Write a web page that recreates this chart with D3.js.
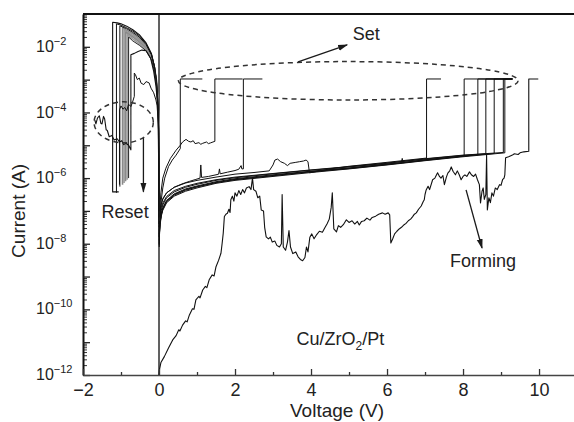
<!DOCTYPE html>
<html>
<head>
<meta charset="utf-8">
<script src="https://cdn.jsdelivr.net/npm/d3@7"></script>
<style>
  body { margin: 0; background: #fff; }
  svg { display: block; font-family: "Liberation Sans", Arial, Helvetica, sans-serif; }
</style>
</head>
<body>
<script>

// every curve is a list of [voltage (V), log10 of current (A)]

const zeroLine = [[0, -12], [0, -1]]

const formingCurve = [[0,-12],[0.01,-11.85],[0.05,-11.62],[0.14,-11.44],[0.25,-11.18],[0.36,-10.93],[0.45,-10.8],[0.52,-10.62],[0.55,-10.66],[0.62,-10.48],[0.7,-10.35],[0.74,-10.38],[0.8,-10.17],[0.88,-9.98],[0.92,-10.0],[0.97,-9.71],[1.05,-9.6],[1.08,-9.65],[1.15,-9.41],[1.22,-9.3],[1.26,-9.34],[1.32,-9.1],[1.4,-8.95],[1.45,-8.98],[1.5,-8.7],[1.57,-8.5],[1.63,-8.29],[1.66,-8.0],[1.69,-7.68],[1.72,-7.17],[1.76,-7.1],[1.8,-7.07],[1.84,-6.95],[1.87,-7.05],[1.89,-6.66],[1.93,-6.55],[1.97,-6.7],[2.0,-6.45],[2.05,-6.55],[2.1,-6.38],[2.15,-6.5],[2.2,-6.35],[2.25,-6.45],[2.3,-6.3],[2.37,-6.26],[2.42,-6.35],[2.46,-6.0],[2.49,-6.35],[2.55,-6.4],[2.6,-6.6],[2.65,-6.55],[2.69,-6.97],[2.75,-7.0],[2.78,-7.5],[2.82,-7.79],[2.88,-7.85],[2.93,-7.8],[2.98,-7.95],[3.05,-7.92],[3.1,-8.05],[3.17,-8.1],[3.22,-8.0],[3.24,-6.5],[3.27,-8.1],[3.33,-8.2],[3.38,-7.95],[3.42,-7.6],[3.46,-8.1],[3.52,-8.3],[3.6,-8.25],[3.66,-8.4],[3.72,-8.48],[3.78,-8.52],[3.84,-8.42],[3.88,-8.1],[3.92,-8.25],[3.97,-7.8],[4.02,-7.7],[4.08,-7.85],[4.15,-7.72],[4.22,-7.62],[4.3,-7.65],[4.36,-7.52],[4.42,-7.4],[4.48,-7.25],[4.53,-6.9],[4.56,-6.45],[4.6,-7.55],[4.67,-7.64],[4.72,-7.45],[4.78,-7.5],[4.85,-7.42],[4.93,-7.27],[5.0,-7.35],[5.08,-7.3],[5.15,-7.4],[5.22,-7.32],[5.27,-7.43],[5.33,-7.32],[5.4,-7.3],[5.47,-7.22],[5.55,-7.28],[5.61,-7.2],[5.7,-7.16],[5.78,-7.1],[5.88,-7.06],[5.95,-7.1],[6.03,-7.06],[6.07,-7.12],[6.1,-7.98],[6.15,-7.85],[6.2,-7.7],[6.26,-7.62],[6.32,-7.55],[6.38,-7.5],[6.45,-7.42],[6.5,-7.38],[6.56,-7.3],[6.62,-7.25],[6.67,-7.18],[6.72,-7.1],[6.77,-7.06],[6.83,-6.95],[6.9,-6.85],[6.95,-6.72],[6.98,-6.66],[7.0,-6.5],[7.03,-6.36],[7.08,-6.25],[7.12,-6.35],[7.2,-6.05],[7.26,-6.0],[7.33,-5.84],[7.38,-5.95],[7.42,-6.0],[7.47,-5.92],[7.51,-6.2],[7.56,-5.98],[7.6,-5.85],[7.65,-5.78],[7.69,-5.66],[7.74,-5.8],[7.8,-5.9],[7.85,-5.78],[7.9,-5.9],[7.95,-6.05],[8.0,-5.95],[8.05,-5.9],[8.1,-5.95],[8.17,-5.81],[8.22,-5.9],[8.28,-5.95],[8.33,-5.88],[8.38,-6.05],[8.43,-6.2],[8.46,-6.76],[8.5,-6.4],[8.53,-6.3],[8.56,-6.65],[8.6,-6.5],[8.62,-5.3],[8.64,-6.97],[8.68,-6.6],[8.72,-6.75],[8.76,-6.45],[8.8,-6.55],[8.85,-6.3],[8.9,-6.35],[8.96,-6.2],[9.0,-6.22],[9.04,-6.05],[9.08,-6.0],[9.1,-5.9],[9.12,-5.38],[9.2,-5.35],[9.3,-5.3],[9.35,-5.26],[9.45,-5.28],[9.5,-5.23],[9.6,-5.2],[9.73,-5.18],[9.73,-2.98],[9.98,-2.98]]

// set sweeps (positive bias)
const setEarly1 = [[0.005,-7.6],[0.02,-7.2],[0.05,-6.75],[0.1,-6.3],[0.15,-6.0],[0.25,-5.65],[0.35,-5.45],[0.45,-5.3],[0.56,-5.1],[0.56,-2.98],[1.14,-2.98]]
const setEarly2 = [[0.005,-7.4],[0.02,-6.95],[0.05,-6.45],[0.1,-6.0],[0.18,-5.7],[0.3,-5.4],[0.45,-5.15],[0.56,-5.0],[0.62,-4.9],[0.71,-4.82],[0.78,-4.88],[0.84,-4.9],[0.9,-4.86],[0.95,-4.95],[1.05,-4.92],[1.1,-4.97],[1.15,-4.94],[1.25,-4.9],[1.3,-4.95],[1.35,-4.93],[1.42,-4.9],[1.47,-4.88],[1.47,-2.98],[2.2,-2.98]]
const setSpiky = [[0.005,-7.7],[0.01,-7.35],[0.03,-7.0],[0.06,-6.78],[0.1,-6.62],[0.2,-6.45],[0.4,-6.28],[0.6,-6.18],[0.8,-6.1],[0.97,-6.04],[1.08,-6.0],[1.1,-5.6],[1.12,-5.98],[1.3,-5.95],[1.5,-5.9],[1.57,-5.88],[1.59,-5.72],[1.61,-5.87],[1.8,-5.82],[2.0,-5.77],[2.1,-5.73],[2.16,-5.62],[2.18,-5.72],[2.22,-5.72],[2.22,-2.98],[2.72,-2.98]]
const setBumpy = [[0.005,-7.8],[0.01,-7.45],[0.03,-7.05],[0.06,-6.8],[0.1,-6.65],[0.2,-6.45],[0.4,-6.28],[0.7,-6.15],[1,-6.07],[1.5,-5.97],[2,-5.88],[2.5,-5.83],[2.9,-5.78],[3.0,-5.6],[3.05,-5.45],[3.12,-5.42],[3.2,-5.5],[3.3,-5.55],[3.38,-5.62],[3.45,-5.55],[3.6,-5.52],[3.7,-5.5],[3.8,-5.48],[3.87,-5.45],[3.92,-5.5],[3.96,-5.84],[4.5,-5.72],[5,-5.64],[6,-5.52],[7.04,-5.39],[7.04,-2.98],[7.42,-2.98]]
const setLate1 = [[0.005,-8.0],[0.01,-7.7],[0.03,-7.35],[0.06,-7.12],[0.1,-6.95],[0.2,-6.72],[0.4,-6.52],[0.7,-6.37],[1,-6.27],[1.5,-6.14],[2,-6.05],[3,-5.93],[4,-5.81],[5,-5.71],[6,-5.59],[7,-5.46],[8.03,-5.33],[8.03,-2.98],[9.3,-2.98]]
const setLate2 = [[0.005,-7.9],[0.01,-7.62],[0.03,-7.3],[0.06,-7.08],[0.1,-6.9],[0.2,-6.68],[0.4,-6.48],[0.7,-6.33],[1,-6.24],[1.5,-6.11],[2,-6.02],[3,-5.9],[4,-5.79],[5,-5.69],[6,-5.57],[6.38,-5.53],[6.4,-5.4],[6.42,-5.53],[7,-5.44],[8,-5.33],[8.39,-5.29],[8.39,-2.98],[9.3,-2.98]]
const setLate3 = [[0.005,-7.8],[0.01,-7.5],[0.03,-7.18],[0.06,-6.98],[0.1,-6.82],[0.2,-6.6],[0.4,-6.42],[0.7,-6.28],[1,-6.19],[1.5,-6.07],[2,-5.99],[3,-5.87],[4,-5.76],[5,-5.66],[6,-5.55],[7,-5.42],[8,-5.31],[8.6,-5.26],[8.6,-2.98],[9.3,-2.98]]
const setLate4 = [[0.005,-8.05],[0.01,-7.72],[0.03,-7.36],[0.06,-7.11],[0.1,-6.93],[0.2,-6.7],[0.4,-6.5],[0.7,-6.35],[1,-6.26],[1.5,-6.13],[2,-6.04],[3,-5.92],[4,-5.8],[5,-5.7],[6,-5.58],[7,-5.45],[8,-5.33],[8.82,-5.25],[8.82,-2.98],[9.3,-2.98]]
const setLate5 = [[0.005,-7.75],[0.01,-7.45],[0.03,-7.1],[0.06,-6.9],[0.1,-6.76],[0.2,-6.56],[0.4,-6.38],[0.7,-6.25],[1,-6.16],[1.5,-6.05],[2,-5.97],[3,-5.86],[4,-5.75],[5,-5.65],[6,-5.54],[7,-5.41],[8,-5.3],[9.06,-5.22],[9.06,-2.98],[9.3,-2.98]]
const setLate6 = [[0.005,-8.1],[0.01,-7.78],[0.03,-7.42],[0.06,-7.16],[0.1,-6.98],[0.2,-6.75],[0.4,-6.55],[0.7,-6.4],[1,-6.3],[1.5,-6.16],[2,-6.07],[3,-5.95],[4,-5.83],[5,-5.72],[6,-5.6],[7,-5.47],[8,-5.35],[9.1,-5.23],[9.1,-2.98],[9.3,-2.98]]

// reset sweeps (negative bias)
const resetA = [[-0.001,-7.5],[-0.004,-5.6],[-0.01,-4.6],[-0.02,-4.0],[-0.04,-3.55],[-0.07,-3.05],[-0.12,-2.6],[-0.2,-2.2],[-0.34,-1.88],[-0.52,-1.63],[-0.69,-1.48],[-0.85,-1.37],[-1.0,-1.3],[-1.1,-1.27],[-1.22,-1.25],[-1.22,-6.42],[-1.06,-6.42]]
const resetB = [[-0.001,-7.4],[-0.004,-5.55],[-0.01,-4.55],[-0.02,-3.95],[-0.04,-3.5],[-0.07,-3.02],[-0.12,-2.6],[-0.2,-2.22],[-0.34,-1.9],[-0.52,-1.66],[-0.69,-1.52],[-0.85,-1.42],[-1.0,-1.34],[-1.12,-1.3],[-1.12,-6.45]]
const resetC = [[-0.001,-7.3],[-0.004,-5.5],[-0.01,-4.52],[-0.02,-3.92],[-0.04,-3.47],[-0.07,-3.0],[-0.12,-2.6],[-0.2,-2.24],[-0.34,-1.93],[-0.52,-1.7],[-0.69,-1.56],[-0.85,-1.45],[-1.03,-1.36],[-1.03,-6.26]]
const resetD = [[-0.001,-7.3],[-0.004,-5.5],[-0.01,-4.5],[-0.02,-3.9],[-0.04,-3.46],[-0.07,-3.0],[-0.12,-2.62],[-0.2,-2.27],[-0.34,-1.97],[-0.52,-1.75],[-0.69,-1.6],[-0.85,-1.5],[-0.96,-1.42],[-0.96,-6.2]]
const resetE = [[-0.001,-7.2],[-0.004,-5.45],[-0.01,-4.5],[-0.02,-3.9],[-0.04,-3.47],[-0.07,-3.02],[-0.12,-2.64],[-0.2,-2.3],[-0.34,-2.0],[-0.52,-1.8],[-0.69,-1.65],[-0.85,-1.54],[-0.92,-1.48],[-0.92,-6.15]]
const resetF = [[-0.001,-7.2],[-0.004,-5.45],[-0.01,-4.5],[-0.02,-3.92],[-0.04,-3.5],[-0.07,-3.05],[-0.12,-2.66],[-0.2,-2.33],[-0.34,-2.04],[-0.52,-1.85],[-0.69,-1.7],[-0.88,-1.55],[-0.88,-6.1]]
const resetG = [[-0.001,-7.1],[-0.004,-5.45],[-0.01,-4.52],[-0.02,-3.95],[-0.04,-3.53],[-0.07,-3.08],[-0.12,-2.7],[-0.2,-2.36],[-0.34,-2.08],[-0.52,-1.9],[-0.69,-1.76],[-0.84,-1.62],[-0.84,-6.05]]
const resetH = [[-0.001,-7.1],[-0.004,-5.5],[-0.01,-4.55],[-0.02,-4.0],[-0.04,-3.58],[-0.07,-3.12],[-0.12,-2.74],[-0.2,-2.4],[-0.34,-2.12],[-0.52,-1.95],[-0.69,-1.82],[-0.8,-1.7],[-0.8,-6.0]]
const resetI = [[-0.001,-7.2],[-0.004,-5.6],[-0.01,-4.65],[-0.02,-4.1],[-0.04,-3.7],[-0.08,-3.2],[-0.14,-2.75],[-0.22,-2.35],[-0.34,-2.12],[-0.45,-2.1],[-0.55,-2.14],[-0.65,-2.2],[-0.74,-2.24],[-0.74,-5.14],[-0.8,-5.0],[-0.87,-4.94],[-0.93,-4.98],[-0.98,-4.86],[-1.04,-4.9],[-1.1,-4.8],[-1.18,-4.84],[-1.24,-4.7],[-1.31,-4.74],[-1.36,-4.55],[-1.39,-4.53],[-1.43,-4.2],[-1.46,-4.12],[-1.5,-4.35],[-1.53,-4.33],[-1.57,-4.1],[-1.62,-4.17],[-1.66,-4.35],[-1.69,-4.23]]
const resetJ = [[-0.001,-7.0],[-0.005,-5.5],[-0.02,-4.3],[-0.05,-3.8],[-0.08,-3.62],[-0.14,-3.4],[-0.21,-3.26],[-0.26,-3.1],[-0.34,-3.06],[-0.4,-3.15],[-0.47,-3.11],[-0.52,-2.95],[-0.57,-3.0],[-0.62,-2.85],[-0.65,-2.8],[-0.65,-3.51],[-0.7,-3.7],[-0.74,-3.82],[-0.8,-3.75],[-0.85,-3.95],[-0.9,-3.85],[-0.95,-3.9],[-1.0,-3.8],[-1.04,-3.92],[-1.04,-6.2]]

const xMajorTicks = [-2, 0, 2, 4, 6, 8, 10]
const xMinorTicks = [-1, 1, 3, 5, 7, 9]
const yLabelExponents = [-12, -10, -8, -6, -4, -2]

// annotations, in data units [V, log10 I]
const notes = [
    {text: 'Set', at: [5.1, -1.79]},
    {text: 'Reset', at: [-1.51, -7.22]},
    {text: 'Forming', at: [7.66, -8.71]}
]
const arrows = [
    {from: [3.66, -2.46], to: [4.95, -1.94]},
    {from: [8.08, -6.36], to: [8.5, -8.13]},
    {from: [-0.41, -4.78], to: [-0.41, -6.42]}
]
const ellipses = [
    {center: [4.98, -3.035], rx: 4.47, ry: 0.585},
    {center: [-0.93, -4.3], rx: 0.78, ry: 0.625}
]


const w = 574
const h = 422
const plotLeft = 83
const plotTop = 14
const plotBottom = 375

const svg = d3.select('body')
    .append('svg')
        .attr('width', w)
        .attr('height', h)

const x = d3.scaleLinear()
    .domain([-2, 10.92])
    .range([plotLeft, w])

const y = d3.scaleLog()
    .domain([1e-12, 1e-1])
    .range([plotBottom, plotTop])

const py = l => y(10 ** l)

const defs = svg.append('defs')

defs.append('clipPath')
    .attr('id', 'plot-clip')
    .append('rect')
        .attr('x', plotLeft)
        .attr('y', plotTop)
        .attr('width', w - plotLeft)
        .attr('height', plotBottom - plotTop)

defs.append('marker')
    .attr('id', 'arrow')
    .attr('viewBox', '0 0 10 10')
    .attr('refX', 9)
    .attr('refY', 5)
    .attr('markerWidth', 10)
    .attr('markerHeight', 10)
    .attr('markerUnits', 'userSpaceOnUse')
    .attr('orient', 'auto')
    .append('path')
        .attr('d', 'M0,2L10,5L0,8Z')
        .attr('fill', '#1a1a1a')

// curves
const line = d3.line()
    .x(d => x(d[0]))
    .y(d => py(d[1]))

const curves = [
    {data: zeroLine, color: '#3a3a3a', width: 1.6},
    {data: formingCurve, color: '#111', width: 1.1},
    {data: setEarly1, color: '#111', width: 1},
    {data: setEarly2, color: '#111', width: 1},
    {data: setSpiky, color: '#111', width: 1},
    {data: setBumpy, color: '#111', width: 1},
    {data: setLate1, color: '#111', width: 1},
    {data: setLate2, color: '#111', width: 1},
    {data: setLate3, color: '#111', width: 1},
    {data: setLate4, color: '#111', width: 1},
    {data: setLate5, color: '#111', width: 1},
    {data: setLate6, color: '#111', width: 1},
    {data: resetD, color: '#8a8a8a', width: 1.6},
    {data: resetE, color: '#999', width: 1.6},
    {data: resetF, color: '#8a8a8a', width: 1.6},
    {data: resetG, color: '#999', width: 1.6},
    {data: resetA, color: '#111', width: 1.1},
    {data: resetB, color: '#111', width: 1},
    {data: resetC, color: '#111', width: 1},
    {data: resetH, color: '#222', width: 1},
    {data: resetI, color: '#111', width: 1.1},
    {data: resetJ, color: '#111', width: 1}
]

svg.append('g')
    .attr('clip-path', 'url(#plot-clip)')
    .selectAll('path')
    .data(curves)
    .enter()
    .append('path')
        .attr('d', d => line(d.data))
        .attr('fill', 'none')
        .attr('stroke', d => d.color)
        .attr('stroke-width', d => d.width)
        .attr('stroke-linejoin', 'round')

// dashed ellipses and arrows
svg.selectAll('.note-ellipse')
    .data(ellipses)
    .enter()
    .append('ellipse')
        .attr('class', 'note-ellipse')
        .attr('cx', d => x(d.center[0]))
        .attr('cy', d => py(d.center[1]))
        .attr('rx', d => x(d.center[0] + d.rx) - x(d.center[0]))
        .attr('ry', d => py(d.center[1] - d.ry) - py(d.center[1]))
        .attr('fill', 'none')
        .attr('stroke', '#333')
        .attr('stroke-width', 1.5)
        .attr('stroke-dasharray', '5,4')

svg.selectAll('.note-arrow')
    .data(arrows)
    .enter()
    .append('line')
        .attr('class', 'note-arrow')
        .attr('x1', d => x(d.from[0]))
        .attr('y1', d => py(d.from[1]))
        .attr('x2', d => x(d.to[0]))
        .attr('y2', d => py(d.to[1]))
        .attr('stroke', '#1a1a1a')
        .attr('stroke-width', 1.3)
        .attr('marker-end', 'url(#arrow)')

svg.selectAll('.note')
    .data(notes)
    .enter()
    .append('text')
        .attr('class', 'note')
        .attr('x', d => x(d.at[0]))
        .attr('y', d => py(d.at[1]))
        .attr('font-size', 18)
        .attr('fill', '#222')
        .text(d => d.text)

const sample = svg.append('text')
    .attr('x', x(3.62))
    .attr('y', py(-11.1))
    .attr('font-size', 18)
    .attr('fill', '#222')
sample.append('tspan').text('Cu/ZrO')
sample.append('tspan').attr('font-size', 12).attr('dy', 5).text('2')
sample.append('tspan').attr('dy', -5).text('/Pt')

// y axis: minor and major ticks pointing inward
const minorY = []
for (let e = -12; e < -1; e++) {
    for (let m = 2; m < 10; m++) minorY.push(m * 10 ** e)
}

svg.append('g')
    .attr('transform', `translate(${plotLeft}, 0)`)
    .call(d3.axisLeft(y).tickValues(minorY).tickSize(-4).tickSizeOuter(0).tickFormat(''))
    .call(g => g.select('.domain').remove())
    .call(g => g.selectAll('line').attr('stroke', '#333'))

svg.append('g')
    .attr('transform', `translate(${plotLeft}, 0)`)
    .call(d3.axisLeft(y).tickValues(d3.range(-12, -1).map(e => 10 ** e)).tickSize(-7).tickSizeOuter(0).tickFormat(''))
    .call(g => g.select('.domain').attr('stroke', '#111').attr('stroke-width', 2))
    .call(g => g.selectAll('line').attr('stroke', '#222').attr('stroke-width', 1.3))

const yLabels = svg.append('g')
    .selectAll('text')
    .data(yLabelExponents)
    .enter()
    .append('text')
        .attr('x', 36)
        .attr('y', d => py(d))
        .attr('dy', '0.32em')
        .attr('font-size', 16)
        .attr('fill', '#222')

yLabels.append('tspan').text('10')
yLabels.append('tspan')
    .attr('font-size', 11)
    .attr('dy', -7)
    .text(d => '\u2212' + Math.abs(d))

// x axis: ticks pointing up
svg.append('g')
    .attr('transform', `translate(0, ${plotBottom})`)
    .call(d3.axisBottom(x).tickValues(xMinorTicks).tickSize(-3).tickSizeOuter(0).tickFormat(''))
    .call(g => g.select('.domain').remove())
    .call(g => g.selectAll('line').attr('stroke', '#333').attr('stroke-width', 1.3))

svg.append('g')
    .attr('transform', `translate(0, ${plotBottom})`)
    .call(d3.axisBottom(x).tickValues(xMajorTicks).tickSize(-6).tickSizeOuter(0).tickPadding(8))
    .call(g => g.select('.domain').attr('stroke', '#444').attr('stroke-width', 1.6))
    .call(g => g.selectAll('line').attr('stroke', '#333').attr('stroke-width', 1.3))
    .call(g => g.attr('font-family', null).attr('font-size', null))
    .call(g => g.selectAll('text').attr('font-size', 18).attr('fill', '#222'))

// top frame line
svg.append('line')
    .attr('x1', plotLeft)
    .attr('x2', w)
    .attr('y1', plotTop)
    .attr('y2', plotTop)
    .attr('stroke', '#111')
    .attr('stroke-width', 2)

// axis titles
svg.append('text')
    .attr('x', 337)
    .attr('y', 417)
    .attr('text-anchor', 'middle')
    .attr('font-size', 19)
    .attr('fill', '#222')
    .text('Voltage (V)')

svg.append('text')
    .attr('transform', `translate(25, ${py(-7)}) rotate(-90)`)
    .attr('text-anchor', 'middle')
    .attr('font-size', 19)
    .attr('fill', '#222')
    .text('Current (A)')

</script>
</body>
</html>
